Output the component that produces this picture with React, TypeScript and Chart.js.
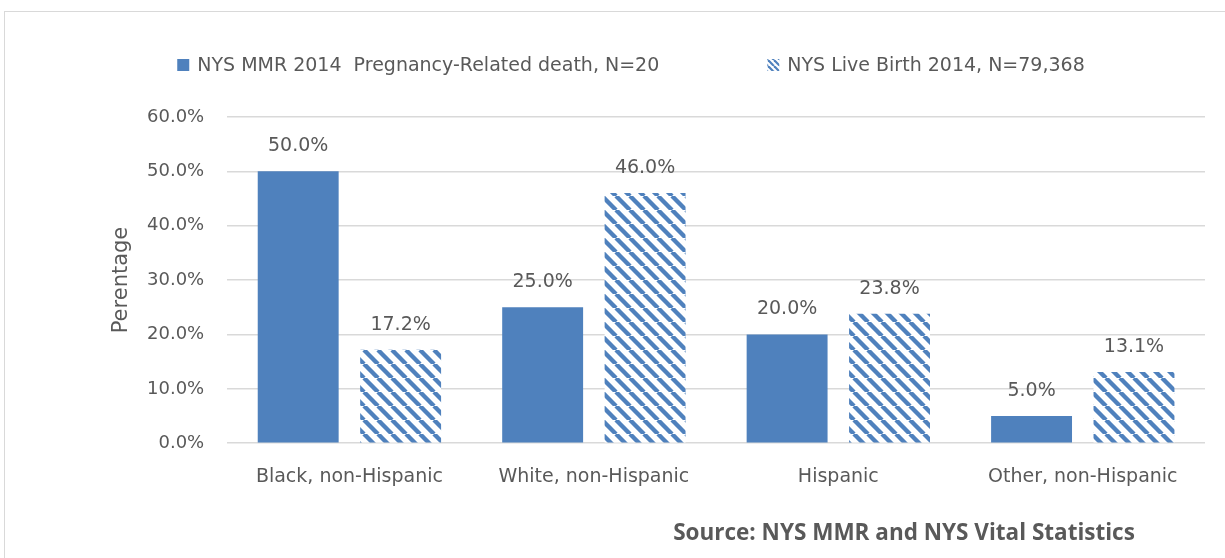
import React, { useEffect, useRef } from "react";
import { Chart, registerables } from "chart.js";

Chart.register(...registerables);

const categories = ["Black, non-Hispanic", "White, non-Hispanic", "Hispanic", "Other, non-Hispanic"];
const mmrValues = [50.0, 25.0, 20.0, 5.0];
const birthValues = [17.2, 46.0, 23.8, 13.1];
const seriesLabels = ["NYS MMR 2014  Pregnancy-Related death, N=20", "NYS Live Birth 2014, N=79,368"];
const yTicks = [0, 10, 20, 30, 40, 50, 60];
const sourceText = "Source: NYS MMR and NYS Vital Statistics";
const yTitle = "Perentage";

const BLUE = "#4f81bd";
const TEXT = "#595959";
const GRID = "#d9d9d9";
const FONT = "'DejaVu Sans', 'Noto Sans', sans-serif";

function makeHatch(s: number, w: number): CanvasPattern | string {
  const c = document.createElement("canvas");
  c.width = s;
  c.height = s;
  const ctx = c.getContext("2d");
  if (!ctx) return BLUE;
  ctx.fillStyle = "#ffffff";
  ctx.fillRect(0, 0, s, s);
  ctx.strokeStyle = BLUE;
  ctx.lineWidth = w;
  for (let k = -1; k <= 1; k++) {
    ctx.beginPath();
    ctx.moveTo(k * s, 0);
    ctx.lineTo(k * s + s, s);
    ctx.stroke();
  }
  const p = ctx.createPattern(c, "repeat");
  return p || BLUE;
}

export default function App() {
  const ref = useRef<HTMLCanvasElement | null>(null);

  useEffect(() => {
    if (!ref.current) return;
    const hatch = makeHatch(14, 4.4);
    const smallHatch = makeHatch(6, 2.2);

    const framePlugin = {
      id: "frame",
      beforeDraw(chart: any) {
        const ctx = chart.ctx;
        ctx.save();
        ctx.fillStyle = "#ffffff";
        ctx.fillRect(0, 0, chart.width, chart.height);
        ctx.strokeStyle = GRID;
        ctx.lineWidth = 1;
        ctx.strokeRect(4.5, 11.5, 1400, 700);
        ctx.restore();
      },
    };

    const labelPlugin = {
      id: "valueLabels",
      afterDatasetsDraw(chart: any) {
        const ctx = chart.ctx;
        ctx.save();
        ctx.font = `19px ${FONT}`;
        ctx.fillStyle = TEXT;
        ctx.textAlign = "center";
        ctx.textBaseline = "middle";
        chart.data.datasets.forEach((ds: any, i: number) => {
          const meta = chart.getDatasetMeta(i);
          meta.data.forEach((bar: any, j: number) => {
            const v = ds.data[j] as number;
            ctx.fillText(v.toFixed(1) + "%", bar.x, bar.y - 25);
          });
        });
        ctx.restore();
      },
    };

    const legendPlugin = {
      id: "customLegend",
      afterDraw(chart: any) {
        const ctx = chart.ctx;
        ctx.save();
        ctx.font = `19px ${FONT}`;
        ctx.textBaseline = "middle";
        ctx.textAlign = "left";
        const box = 12;
        const gap = 8;
        const itemGap = 108;
        const ds = chart.data.datasets;
        const widths = ds.map((d: any) => ctx.measureText(d.label).width);
        const total = widths.reduce((a: number, w: number) => a + box + gap + w, 0) + itemGap * (ds.length - 1);
        let x = 631 - total / 2;
        const y = 65;
        ds.forEach((d: any, i: number) => {
          ctx.fillStyle = i === 1 ? smallHatch : d.backgroundColor;
          ctx.fillRect(x, y - box / 2, box, box);
          ctx.fillStyle = TEXT;
          ctx.fillText(d.label, x + box + gap, y + 1);
          x += box + gap + widths[i] + itemGap;
        });

        // y axis title
        ctx.save();
        ctx.translate(122, 280);
        ctx.rotate(-Math.PI / 2);
        ctx.font = `21px ${FONT}`;
        ctx.textAlign = "center";
        ctx.textBaseline = "middle";
        ctx.fillStyle = TEXT;
        ctx.fillText(yTitle, 0, 0);
        ctx.restore();

        // source note
        ctx.font = `bold 22.5px 'Open Sans', 'DejaVu Sans', sans-serif`;
        ctx.fillStyle = TEXT;
        ctx.textAlign = "center";
        ctx.textBaseline = "alphabetic";
        ctx.fillText(sourceText, 904, 540);
        ctx.restore();
      },
    };

    const chart = new Chart(ref.current, {
      type: "bar",
      data: {
        labels: categories,
        datasets: [
          {
            label: seriesLabels[0],
            data: mmrValues,
            backgroundColor: BLUE,
            borderWidth: 0,
            categoryPercentage: 0.838,
            barPercentage: 0.79,
          },
          {
            label: seriesLabels[1],
            data: birthValues,
            backgroundColor: hatch as any,
            borderWidth: 0,
            categoryPercentage: 0.838,
            barPercentage: 0.79,
          },
        ],
      },
      options: {
        animation: false,
        responsive: true,
        maintainAspectRatio: false,
        layout: { padding: { left: 124, top: 117, right: 20, bottom: 48 } },
        plugins: {
          legend: { display: false },
          tooltip: { enabled: false },
        },
        scales: {
          x: {
            grid: { display: false, drawTicks: false },
            border: { display: false },
            ticks: { color: TEXT, font: { family: FONT, size: 19 }, padding: 22 },
          },
          y: {
            min: yTicks[0],
            max: yTicks[yTicks.length - 1],
            afterBuildTicks(scale: any) {
              scale.ticks = yTicks.map((v) => ({ value: v }));
            },
            grid: { color: GRID, lineWidth: 1.5, drawTicks: false },
            border: { display: false },
            ticks: {
              color: TEXT,
              font: { family: FONT, size: 18 },
              padding: 23,
              callback: (v: any) => Number(v).toFixed(1) + "%",
            },
          },
        },
      },
      plugins: [framePlugin, labelPlugin, legendPlugin],
    });
    return () => chart.destroy();
  }, []);

  return (
    <div style={{ position: "fixed", left: 0, top: 0, width: 1225, height: 558 }}>
      <canvas ref={ref} />
    </div>
  );
}
